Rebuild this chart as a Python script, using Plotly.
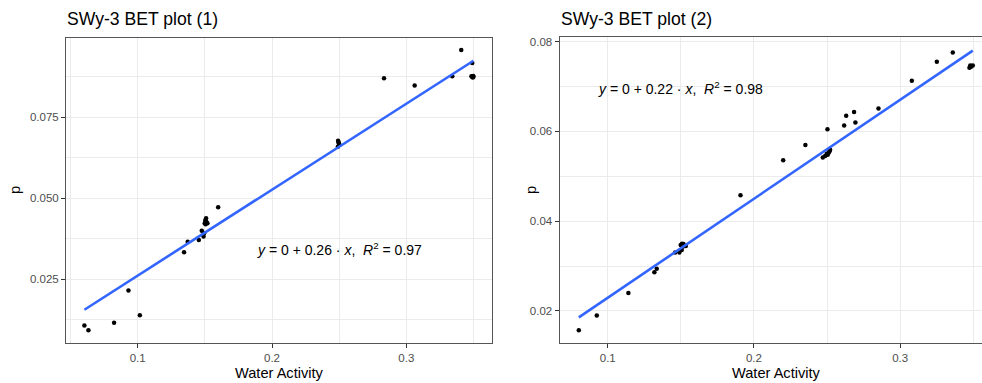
import numpy as np
import plotly.graph_objects as go

# ---- data ----
left_x = [0.0603, 0.0633, 0.0824, 0.0931, 0.1016, 0.1345, 0.1372, 0.1455, 0.1477, 0.1490,
          0.1494, 0.1499, 0.1503, 0.1509, 0.1512, 0.1519, 0.1505, 0.1599, 0.2492, 0.2497,
          0.2490, 0.2502, 0.2496, 0.2834, 0.3062, 0.3342, 0.3409, 0.3491, 0.3485, 0.3492,
          0.3498, 0.3495, 0.3500]
left_y = [0.0107, 0.0093, 0.0116, 0.0215, 0.0139, 0.0333, 0.0366, 0.0371, 0.0400, 0.0382,
          0.0392, 0.0423, 0.0431, 0.0438, 0.0427, 0.0423, 0.0420, 0.0472, 0.0677, 0.0670,
          0.0659, 0.0665, 0.0672, 0.0870, 0.0848, 0.0876, 0.0957, 0.0917, 0.0876, 0.0874,
          0.0877, 0.0872, 0.0875]

right_x = [0.0802, 0.0925, 0.1141, 0.1319, 0.1335, 0.1461, 0.1490, 0.1499, 0.1513, 0.1506,
           0.1534, 0.1518, 0.1508, 0.1908, 0.2200, 0.2352, 0.2503, 0.2471, 0.2487, 0.2498,
           0.2512, 0.2521, 0.2505, 0.2517, 0.2617, 0.2631, 0.2685, 0.2694, 0.2852, 0.3080,
           0.3251, 0.3360, 0.3474, 0.3480, 0.3497, 0.3485]
right_y = [0.0157, 0.0190, 0.0240, 0.0286, 0.0294, 0.0330, 0.0330, 0.0347, 0.0343, 0.0336,
           0.0345, 0.0349, 0.0350, 0.0458, 0.0536, 0.0570, 0.0605, 0.0542, 0.0545, 0.0550,
           0.0553, 0.0559, 0.0548, 0.0556, 0.0613, 0.0635, 0.0643, 0.0620, 0.0651, 0.0713,
           0.0755, 0.0776, 0.0742, 0.0747, 0.0747, 0.0744]

# fitted line coefficients (intercept, slope)
left_fit = [-0.00038, 0.2651]
right_fit = [0.00090, 0.2205]

titles = ["SWy-3 BET plot (1)", "SWy-3 BET plot (2)"]
eq_labels = ["<i>y</i> = 0 + 0.26 · <i>x</i>,&nbsp; <i>R</i><sup>2</sup> = 0.97",
             "<i>y</i> = 0 + 0.22 · <i>x</i>,&nbsp; <i>R</i><sup>2</sup> = 0.98"]
x_title = "Water Activity"
y_title = "p"

W, H = 982, 383
FONT = "Liberation Sans, Arial, Helvetica, sans-serif"
GRID = "#EBEBEB"
BORDER = "#555555"

fig = go.Figure()


def fit_line(xs, coef):
    xs = np.asarray(xs)
    xx = np.linspace(xs.min(), xs.max(), 50)
    return xx, coef[0] + coef[1] * xx


for i, (xs, ys, coef) in enumerate([(left_x, left_y, left_fit),
                                    (right_x, right_y, right_fit)]):
    ax = "x" if i == 0 else "x2"
    ay = "y" if i == 0 else "y2"
    fig.add_trace(go.Scatter(x=xs, y=ys, mode="markers", xaxis=ax, yaxis=ay,
                             marker=dict(color="black", size=4.5), showlegend=False,
                             hoverinfo="x+y"))
    fx, fy = fit_line(xs, coef)
    fig.add_trace(go.Scatter(x=fx, y=fy, mode="lines", xaxis=ax, yaxis=ay,
                             line=dict(color="#3366FF", width=2.6), showlegend=False,
                             hoverinfo="skip"))


def axis_common():
    return dict(showgrid=True, gridcolor=GRID, gridwidth=1, zeroline=False,
                showline=True, linecolor=BORDER, linewidth=1,
                ticks="outside", ticklen=4, tickwidth=1, tickcolor="#333333",
                tickfont=dict(family=FONT, size=11.5, color="#4D4D4D"))


# left panel
lx0, lx1 = 66 / W, 492 / W
ly0, ly1 = 1 - 343 / H, 1 - 37.5 / H
# right panel
rx0, rx1 = 559.5 / W, 1.0
ry0, ry1 = 1 - 343.3 / H, 1 - 36.7 / H

fig.update_layout(
    xaxis=dict(domain=[lx0, lx1], range=[0.0466, 0.3638], anchor="y",
               tickvals=[0.1, 0.2, 0.3], tickformat=".1f", mirror=True,
               minor=dict(tickvals=[0.05, 0.15, 0.25, 0.35], showgrid=True,
                          gridcolor=GRID, gridwidth=0.5),
               **axis_common()),
    yaxis=dict(domain=[ly0, ly1], range=[0.00534, 0.09957], anchor="x",
               tickvals=[0.025, 0.05, 0.075], tickformat=".3f", mirror=True,
               minor=dict(tickvals=[0.0125, 0.0375, 0.0625, 0.0875], showgrid=True,
                          gridcolor=GRID, gridwidth=0.5),
               **axis_common()),
    xaxis2=dict(domain=[rx0, rx1], range=[0.0670, 0.3560], anchor="y2",
                tickvals=[0.1, 0.2, 0.3], tickformat=".1f", mirror=True,
                minor=dict(tickvals=[0.15, 0.25, 0.35], showgrid=True,
                           gridcolor=GRID, gridwidth=0.5),
                **axis_common()),
    yaxis2=dict(domain=[ry0, ry1], range=[0.0128, 0.0811], anchor="x2",
                tickvals=[0.02, 0.04, 0.06, 0.08], tickformat=".2f", mirror=False,
                minor=dict(tickvals=[0.03, 0.05, 0.07], showgrid=True,
                           gridcolor=GRID, gridwidth=0.5),
                **axis_common()),
    width=W, height=H,
    margin=dict(l=0, r=0, t=0, b=0),
    paper_bgcolor="white", plot_bgcolor="white",
    font=dict(family=FONT, color="black"),
    showlegend=False,
)

ann = []
# titles
ann.append(dict(text=titles[0], x=65 / W, y=1 - 19 / H, xref="paper", yref="paper",
                xanchor="left", yanchor="middle", showarrow=False,
                font=dict(family=FONT, size=17.6, color="black")))
ann.append(dict(text=titles[1], x=559 / W, y=1 - 19 / H, xref="paper", yref="paper",
                xanchor="left", yanchor="middle", showarrow=False,
                font=dict(family=FONT, size=17.6, color="black")))
# axis titles
for cx in [(66 + 492) / 2, 776]:
    ann.append(dict(text=x_title, x=cx / W, y=1 - 373 / H, xref="paper", yref="paper",
                    xanchor="center", yanchor="middle", showarrow=False,
                    font=dict(family=FONT, size=14.6, color="black")))
for cx in [15, 531]:
    ann.append(dict(text=y_title, x=cx / W, y=1 - 190 / H, xref="paper", yref="paper",
                    xanchor="center", yanchor="middle", showarrow=False, textangle=-90,
                    font=dict(family=FONT, size=14.6, color="black")))
# equations
ann.append(dict(text=eq_labels[0], x=339 / W, y=1 - 249 / H, xref="paper", yref="paper",
                xanchor="center", yanchor="middle", showarrow=False,
                font=dict(family=FONT, size=14, color="black")))
ann.append(dict(text=eq_labels[1], x=680 / W, y=1 - 88 / H, xref="paper", yref="paper",
                xanchor="center", yanchor="middle", showarrow=False,
                font=dict(family=FONT, size=14, color="black")))
fig.update_layout(annotations=ann)

fig.write_html("out.html",
               config={"displayModeBar": False},
               post_script="document.body.style.margin='0';"
                           "document.body.style.overflow='hidden';")
